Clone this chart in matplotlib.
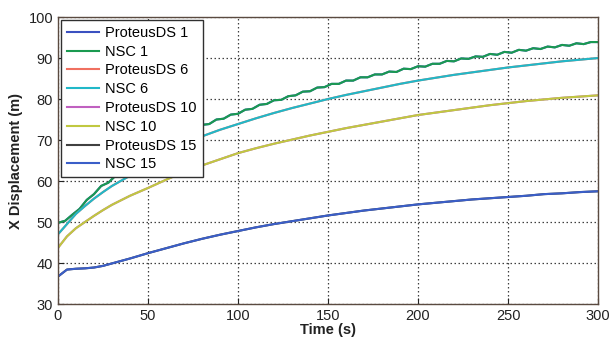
import matplotlib
matplotlib.use("Agg")
import matplotlib.pyplot as plt
import numpy as np

plt.rcParams['font.family'] = ['Liberation Sans', 'DejaVu Sans']

# ---- data ----
t1 = [0, 4, 8, 12, 16, 20, 24, 28, 32, 36, 40, 44, 48, 52, 56, 60, 64, 68, 72, 76,
      80, 84, 88, 92, 96, 100, 104, 108, 112, 116, 120, 124, 128, 132, 136, 140, 144, 148,
      152, 156, 160, 164, 168, 172, 176, 180, 184, 188, 192, 196, 200, 204, 208, 212, 216,
      220, 224, 228, 232, 236, 240, 244, 248, 252, 256, 260, 264, 268, 272, 276, 280, 284,
      288, 292, 296, 300]
nsc1 = [49.8, 50.3, 51.8, 53.2, 55.4, 56.8, 58.8, 59.6, 61.3, 62.1, 63.7, 64.5, 66.1, 66.8,
        68.2, 68.8, 70.2, 70.7, 72.1, 72.5, 73.7, 73.9, 75.0, 75.2, 76.2, 76.4, 77.4, 77.6,
        78.6, 78.8, 79.7, 79.8, 80.7, 80.9, 81.8, 81.9, 82.8, 82.9, 83.7, 83.7, 84.5, 84.5,
        85.3, 85.3, 86.0, 86.0, 86.7, 86.6, 87.4, 87.3, 88.0, 87.9, 88.6, 88.6, 89.3, 89.2,
        89.9, 89.8, 90.4, 90.3, 91.0, 90.8, 91.5, 91.3, 92.0, 91.8, 92.4, 92.2, 92.8, 92.6,
        93.2, 93.0, 93.6, 93.4, 93.9, 93.9]
proteus1 = nsc1

t = [0, 5, 10, 15, 20, 25, 30, 40, 50, 60, 70, 80, 90, 100, 110, 120, 130, 140, 150, 160,
     170, 180, 190, 200, 210, 220, 230, 240, 250, 260, 270, 280, 290, 300]
nsc6 = [47.0, 49.5, 52.0, 53.9, 55.7, 57.3, 58.8, 61.3, 63.8, 66.5, 69.0, 70.9, 72.5, 73.9,
        75.3, 76.6, 77.8, 78.9, 80.0, 81.0, 81.9, 82.8, 83.7, 84.5, 85.2, 85.9, 86.5, 87.1,
        87.7, 88.2, 88.7, 89.2, 89.6, 90.0]
proteus6 = nsc6
nsc10 = [43.7, 46.5, 48.5, 50.0, 51.5, 52.9, 54.2, 56.4, 58.3, 60.3, 62.2, 63.8, 65.3, 66.8,
         68.0, 69.1, 70.1, 71.1, 72.0, 72.9, 73.7, 74.5, 75.3, 76.1, 76.7, 77.3, 77.9, 78.5,
         79.0, 79.5, 79.9, 80.3, 80.6, 80.9]
proteus10 = nsc10
nsc15 = [36.7, 38.4, 38.6, 38.7, 38.9, 39.3, 39.9, 41.1, 42.4, 43.6, 44.8, 45.9, 46.9, 47.8,
         48.7, 49.5, 50.2, 50.9, 51.6, 52.2, 52.8, 53.3, 53.8, 54.3, 54.7, 55.1, 55.5, 55.8,
         56.1, 56.4, 56.8, 57.0, 57.3, 57.5]
proteus15 = nsc15

labels = ['ProteusDS 1', 'NSC 1', 'ProteusDS 6', 'NSC 6',
          'ProteusDS 10', 'NSC 10', 'ProteusDS 15', 'NSC 15']
colors = ['#3a50c0', '#1a9a50', '#f07060', '#20b8c8',
          '#c060c0', '#c0c840', '#404040', '#3a5ec8']

xticks = [0, 50, 100, 150, 200, 250, 300]
yticks = [30, 40, 50, 60, 70, 80, 90, 100]

fig = plt.figure(figsize=(6.09, 3.41), dpi=100)
ax = fig.add_axes([0.0952, 0.1085, 0.8868, 0.8415])

series = [(t1, proteus1), (t1, nsc1), (t, proteus6), (t, nsc6),
          (t, proteus10), (t, nsc10), (t, proteus15), (t, nsc15)]
for (x, y), lab, c in zip(series, labels, colors):
    ax.plot(x, y, color=c, lw=1.5, label=lab)

ax.set_xlim(0, 300)
ax.set_ylim(30, 100)
ax.set_xticks(xticks)
ax.set_yticks(yticks)
ax.grid(True, linestyle=(0, (1.2, 2.0)), color='#404040', lw=0.9)
ax.tick_params(direction='in', labelsize=10.5, length=4, colors='#222222')
for s in ax.spines.values():
    s.set_color('#5a4a40')
    s.set_linewidth(1.0)
ax.set_xlabel('Time (s)', fontsize=10.5, labelpad=0, fontweight='bold', color='#222222')
ax.set_ylabel('X Displacement (m)', fontsize=10.5, labelpad=4, fontweight='bold', color='#222222')

leg = ax.legend(loc='upper left', fontsize=10.5, frameon=True, fancybox=False,
                edgecolor='#303030', framealpha=1, borderaxespad=0.2,
                labelspacing=0.33, handlelength=2.2, handletextpad=0.45, borderpad=0.4)
leg.get_frame().set_linewidth(1.0)

fig.savefig('out.png', dpi=100)
